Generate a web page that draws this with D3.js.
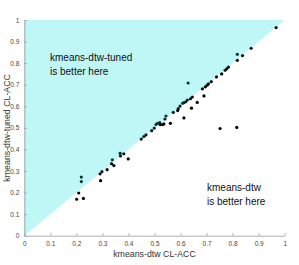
<!DOCTYPE html>
<html>
<head>
<meta charset="utf-8">
<script src="https://cdn.jsdelivr.net/npm/d3@7"></script>
<style>
  body { margin: 0; background: #fff; }
  text { font-family: "Liberation Sans", Arial, sans-serif; }
</style>
</head>
<body>
<svg id="chart"></svg>
<script>
const width = 299;
const height = 265;

// CL-ACC per dataset: kmeans-dtw (x) vs kmeans-dtw-tuned (y)
const dtwAcc = [
    0.201, 0.209, 0.227, 0.219, 0.219, 0.291, 0.298, 0.293, 0.318, 0.338,
    0.335, 0.344, 0.368, 0.369, 0.382, 0.399, 0.449, 0.459, 0.467, 0.489,
    0.499, 0.506, 0.512, 0.520, 0.522, 0.531, 0.536, 0.561, 0.544, 0.540,
    0.572, 0.589, 0.591, 0.598, 0.608, 0.613, 0.620, 0.626, 0.638, 0.645,
    0.613, 0.642, 0.664, 0.690, 0.629, 0.684, 0.695, 0.702, 0.707, 0.718,
    0.738, 0.758, 0.771, 0.778, 0.784, 0.818, 0.818, 0.838, 0.871, 0.967,
    0.752, 0.816
];
const tunedAcc = [
    0.169, 0.198, 0.173, 0.272, 0.251, 0.287, 0.297, 0.255, 0.306, 0.352,
    0.334, 0.325, 0.382, 0.370, 0.380, 0.356, 0.448, 0.460, 0.467, 0.487,
    0.499, 0.516, 0.521, 0.524, 0.515, 0.515, 0.518, 0.521, 0.555, 0.541,
    0.572, 0.580, 0.589, 0.601, 0.614, 0.617, 0.621, 0.629, 0.635, 0.643,
    0.546, 0.591, 0.618, 0.648, 0.708, 0.681, 0.690, 0.698, 0.704, 0.714,
    0.736, 0.750, 0.767, 0.775, 0.782, 0.813, 0.841, 0.835, 0.869, 0.965,
    0.497, 0.502
];
const ticks = [0, 0.1, 0.2, 0.3, 0.4, 0.5, 0.6, 0.7, 0.8, 0.9, 1];
const tickLabels = ['0', '0.1', '0.2', '0.3', '0.4', '0.5', '0.6', '0.7', '0.8', '0.9', '1'];

const margin = { left: 24.3, right: 14.3, top: 20, bottom: 29.3 };

const svg = d3.select('#chart')
    .attr('width', width)
    .attr('height', height);

const x = d3.scaleLinear().domain([0, 1]).range([margin.left, width - margin.right]);
const y = d3.scaleLinear().domain([0, 1]).range([height - margin.bottom, margin.top]);

// points
svg.append('g')
    .selectAll('circle')
    .data(dtwAcc.map((d, i) => [d, tunedAcc[i]]))
    .enter().append('circle')
    .attr('cx', d => x(d[0]))
    .attr('cy', d => y(d[1]))
    .attr('r', 1.6)
    .style('fill', '#000');

// shaded region where tuned wins (drawn on top, translucent)
svg.append('path')
    .attr('d', d3.line()([[x(0), y(0)], [x(0), y(1)], [x(1), y(1)]]) + 'Z')
    .style('fill', 'rgb(0,220,220)')
    .style('fill-opacity', 0.25);

const fmt = d => tickLabels[ticks.indexOf(d)];

const xAxis = svg.append('g')
    .attr('transform', `translate(0, ${y(0)})`)
    .call(d3.axisBottom(x).tickValues(ticks).tickFormat(fmt).tickSizeInner(-2.5).tickSizeOuter(0).tickPadding(6));

const yAxis = svg.append('g')
    .attr('transform', `translate(${x(0)}, 0)`)
    .call(d3.axisLeft(y).tickValues(ticks).tickFormat(fmt).tickSizeInner(-2.5).tickSizeOuter(0).tickPadding(5));

[xAxis, yAxis].forEach(a => {
    a.select('.domain').style('stroke', '#999').style('stroke-width', 0.8);
    a.selectAll('.tick line').style('stroke', '#999').style('stroke-width', 0.8);
    a.selectAll('.tick text')
        .style('font-family', '"Liberation Sans", Arial, sans-serif')
        .style('font-size', '6.5px')
        .style('fill', '#444');
});

// axis titles
svg.append('text')
    .attr('x', (x(0) + x(1)) / 2)
    .attr('y', 257)
    .attr('text-anchor', 'middle')
    .style('font-size', '8.8px')
    .style('fill', '#333')
    .text('kmeans-dtw CL-ACC');

svg.append('text')
    .attr('transform', `translate(9.6, ${(y(0) + y(1)) / 2}) rotate(-90)`)
    .attr('text-anchor', 'middle')
    .style('font-size', '8.8px')
    .style('fill', '#333')
    .text('kmeans-dtw-tuned CL-ACC');

// annotations
const note = (tx, ty, lines) => {
    svg.append('text')
        .attr('x', tx)
        .attr('y', ty)
        .style('font-size', '10px')
        .style('fill', '#111')
        .selectAll('tspan')
        .data(lines)
        .enter().append('tspan')
        .attr('x', tx)
        .attr('dy', (d, i) => i === 0 ? 0 : 14)
        .text(d => d);
};
note(50, 61, ['kmeans-dtw-tuned', 'is better here']);
note(207, 191, ['kmeans-dtw', 'is better here']);
</script>
</body>
</html>
